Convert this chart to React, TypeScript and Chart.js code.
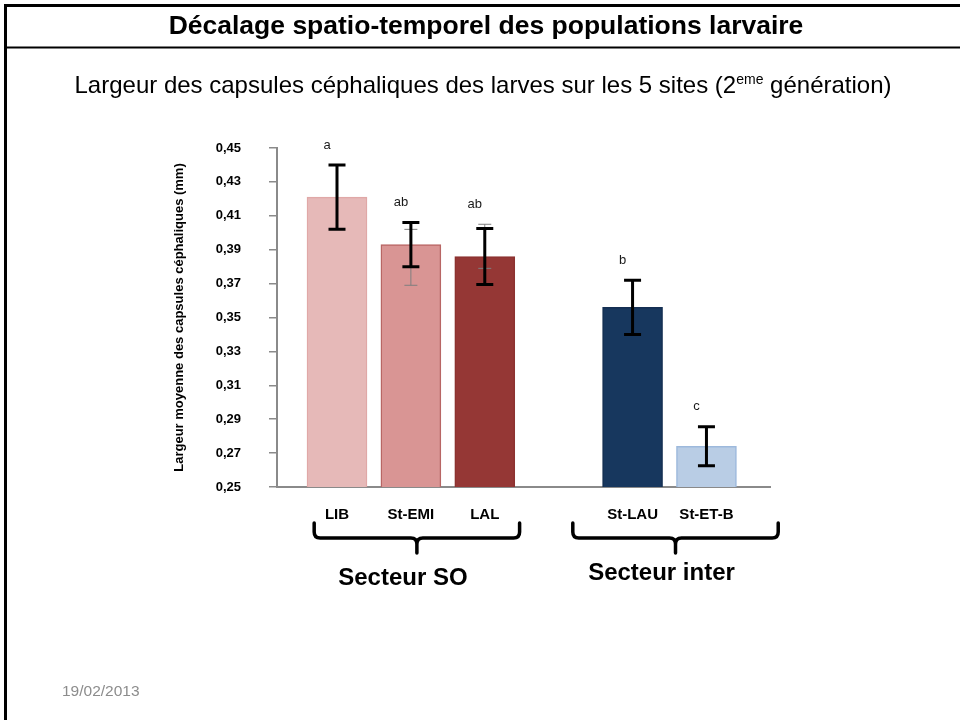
import React, { useEffect, useRef } from 'react';
import { Chart, registerables } from 'chart.js';

Chart.register(...registerables);

// ---- data ----
const categories = ['LIB', 'St-EMI', 'LAL', '', 'St-LAU', 'St-ET-B'];
const means: (number | null)[] = [0.421, 0.393, 0.386, null, 0.356, 0.274];
const errors: (number | null)[] = [0.019, 0.013, 0.0165, null, 0.016, 0.0115];
const altErrLow: (number | null)[] = [null, 0.369, 0.379, null, null, null];
const altErrHigh: (number | null)[] = [null, 0.402, 0.405, null, null, null];
const letters = ['a', 'ab', 'ab', '', 'b', 'c'];
const fillColors = ['#E6B9B8', '#D99594', '#953735', '', '#17375E', '#B9CDE5'];
const borderColors = ['#E0A8A7', '#B86664', '#8C3230', '', '#142F52', '#9DB9DC'];
const yTicks = [0.25, 0.27, 0.29, 0.31, 0.33, 0.35, 0.37, 0.39, 0.41, 0.43, 0.45];
const groupLabels = ['Secteur SO', 'Secteur inter'];
const groupFrom = [0, 4];
const groupTo = [2, 5];
const titleText = 'Décalage spatio-temporel des populations larvaire';
const subtitleMain = 'Largeur des capsules céphaliques des larves sur les 5 sites (2';
const subtitleSup = 'eme';
const subtitleEnd = ' génération)';
const yTitle = 'Largeur moyenne des capsules céphaliques (mm)';
const dateText = '19/02/2013';

const FONT = 'Arial, "Liberation Sans", sans-serif';

export default function App() {
  const ref = useRef<HTMLCanvasElement | null>(null);

  useEffect(() => {
    document.body.style.margin = '0';
    const canvas = ref.current;
    if (!canvas) return;

    const idx = categories.map((_, i) => i).filter((i) => means[i] != null);
    const points = idx.map((i) => ({ x: i, y: means[i] as number }));

    const slidePlugin = {
      id: 'slide',
      beforeDraw(chart: any) {
        const ctx = chart.ctx as CanvasRenderingContext2D;
        ctx.save();
        ctx.fillStyle = '#ffffff';
        ctx.fillRect(0, 0, chart.width, chart.height);
        // frame
        ctx.strokeStyle = '#000000';
        ctx.lineWidth = 3;
        ctx.beginPath();
        ctx.moveTo(5.5, 720);
        ctx.lineTo(5.5, 5.5);
        ctx.lineTo(960, 5.5);
        ctx.stroke();
        ctx.lineWidth = 2;
        ctx.beginPath();
        ctx.moveTo(4, 47.5);
        ctx.lineTo(960, 47.5);
        ctx.stroke();
        // title
        ctx.fillStyle = '#000000';
        ctx.textBaseline = 'middle';
        ctx.textAlign = 'center';
        ctx.font = `bold 26.5px ${FONT}`;
        ctx.fillText(titleText, 486, 27);
        // subtitle with superscript
        ctx.textAlign = 'left';
        const mainFont = `24px ${FONT}`;
        const supFont = `14px ${FONT}`;
        ctx.font = mainFont;
        const w1 = ctx.measureText(subtitleMain).width;
        const w3 = ctx.measureText(subtitleEnd).width;
        ctx.font = supFont;
        const w2 = ctx.measureText(subtitleSup).width;
        const total = w1 + w2 + w3;
        let sx = 483 - total / 2;
        const sy = 86;
        ctx.font = mainFont;
        ctx.fillText(subtitleMain, sx, sy);
        sx += w1;
        ctx.font = supFont;
        ctx.fillText(subtitleSup, sx, sy - 6);
        sx += w2;
        ctx.font = mainFont;
        ctx.fillText(subtitleEnd, sx, sy);
        // date
        ctx.fillStyle = '#8C8C8C';
        ctx.font = `15.5px ${FONT}`;
        ctx.fillText(dateText, 62, 692);
        ctx.restore();
      },
      afterDatasetsDraw(chart: any) {
        const ctx = chart.ctx as CanvasRenderingContext2D;
        const xs = chart.scales.x;
        const ys = chart.scales.y;
        ctx.save();
        categories.forEach((_, i) => {
          const m = means[i];
          const e = errors[i];
          if (m == null || e == null) return;
          const px = xs.getPixelForValue(i);
          // secondary thin grey error bar
          const lo2 = altErrLow[i];
          const hi2 = altErrHigh[i];
          if (lo2 != null && hi2 != null) {
            ctx.strokeStyle = '#7F7F7F';
            ctx.lineWidth = 1;
            const a = ys.getPixelForValue(hi2);
            const b = ys.getPixelForValue(lo2);
            ctx.beginPath();
            ctx.moveTo(px, a);
            ctx.lineTo(px, b);
            ctx.moveTo(px - 6.5, a);
            ctx.lineTo(px + 6.5, a);
            ctx.moveTo(px - 6.5, b);
            ctx.lineTo(px + 6.5, b);
            ctx.stroke();
          }
          const top = ys.getPixelForValue(m + e);
          const bot = ys.getPixelForValue(m - e);
          ctx.strokeStyle = '#000000';
          ctx.lineWidth = 3;
          ctx.beginPath();
          ctx.moveTo(px, top);
          ctx.lineTo(px, bot);
          ctx.moveTo(px - 8.5, top);
          ctx.lineTo(px + 8.5, top);
          ctx.moveTo(px - 8.5, bot);
          ctx.lineTo(px + 8.5, bot);
          ctx.stroke();
          // significance letter
          const hiVal = Math.max(m + e, hi2 ?? -1);
          const ly = ys.getPixelForValue(hiVal) - 20;
          ctx.fillStyle = '#1a1a1a';
          ctx.font = `13px ${FONT}`;
          ctx.textAlign = 'center';
          ctx.textBaseline = 'middle';
          ctx.fillText(letters[i], px - 10, ly);
        });
        ctx.restore();
      },
      afterDraw(chart: any) {
        const ctx = chart.ctx as CanvasRenderingContext2D;
        const xs = chart.scales.x;
        ctx.save();
        const unit = xs.getPixelForValue(1) - xs.getPixelForValue(0);
        groupLabels.forEach((label, g) => {
          const c = xs.getPixelForValue((groupFrom[g] + groupTo[g]) / 2) + 6;
          const half = unit * 1.39;
          const L = c - half;
          const R = c + half;
          const top = 523;
          const mid = 538;
          const bottom = 553;
          const r = 6;
          ctx.strokeStyle = '#000000';
          ctx.lineWidth = 3.5;
          ctx.lineCap = 'round';
          ctx.lineJoin = 'round';
          ctx.beginPath();
          ctx.moveTo(L, top);
          ctx.lineTo(L, mid - r);
          ctx.quadraticCurveTo(L, mid, L + r, mid);
          ctx.lineTo(c - r, mid);
          ctx.quadraticCurveTo(c, mid, c, mid + r);
          ctx.lineTo(c, bottom);
          ctx.moveTo(c, mid + r);
          ctx.quadraticCurveTo(c, mid, c + r, mid);
          ctx.lineTo(R - r, mid);
          ctx.quadraticCurveTo(R, mid, R, mid - r);
          ctx.lineTo(R, top);
          ctx.stroke();
          ctx.fillStyle = '#000000';
          ctx.font = `bold 24px ${FONT}`;
          ctx.textAlign = 'center';
          ctx.textBaseline = 'middle';
          ctx.fillText(label, c - 14, g === 0 ? 578 : 573);
        });
        ctx.restore();
      },
    };

    const chart = new Chart(canvas, {
      type: 'bar',
      data: {
        datasets: [
          {
            data: points as any,
            backgroundColor: idx.map((i) => fillColors[i]),
            borderColor: idx.map((i) => borderColors[i]),
            borderWidth: 1.5,
            barThickness: 60,
          },
        ],
      },
      options: {
        animation: false,
        responsive: false,
        maintainAspectRatio: false,
        devicePixelRatio: 1,
        layout: { padding: { left: 0, top: 148, right: 190, bottom: 193 } },
        plugins: {
          legend: { display: false },
          tooltip: { enabled: false },
          title: { display: false },
        },
        scales: {
          x: {
            type: 'linear',
            min: -0.812,
            max: 5.86,
            offset: false,
            z: 1,
            afterFit: (s: any) => {
              s.height = 40;
            },
            afterBuildTicks: (s: any) => {
              s.ticks = categories
                .map((c, i) => ({ value: i, label: c }))
                .filter((t) => t.label !== '');
            },
            ticks: {
              autoSkip: false,
              maxRotation: 0,
              padding: 19,
              color: '#000000',
              font: { family: FONT, size: 15, weight: 'bold' },
              callback: (v: any) => categories[Number(v)] ?? '',
            },
            grid: { display: true, drawOnChartArea: false, drawTicks: false, color: 'rgba(0,0,0,0)' },
            border: { display: true, color: '#8A8A8A', width: 2 },
          },
          y: {
            type: 'linear',
            min: 0.25,
            max: 0.45,
            afterFit: (s: any) => {
              s.width = 277;
            },
            afterBuildTicks: (s: any) => {
              s.ticks = yTicks.map((v) => ({ value: v }));
            },
            ticks: {
              padding: 28,
              color: '#000000',
              font: { family: FONT, size: 13, weight: 'bold' },
              callback: (v: any) => Number(v).toFixed(2).replace('.', ','),
            },
            grid: {
              display: true,
              drawOnChartArea: false,
              drawTicks: true,
              tickLength: 8,
              color: '#8A8A8A',
              lineWidth: 1.5,
            },
            border: { display: true, color: '#8A8A8A', width: 2 },
            title: {
              display: true,
              text: yTitle,
              color: '#000000',
              font: { family: FONT, size: 13, weight: 'bold' },
              padding: { top: 172, bottom: 0 },
            },
          },
        },
      },
      plugins: [slidePlugin],
    });

    return () => {
      chart.destroy();
    };
  }, []);

  return (
    <div style={{ width: 960, height: 720 }}>
      <canvas ref={ref} width={960} height={720} style={{ display: 'block', width: 960, height: 720 }} />
    </div>
  );
}
